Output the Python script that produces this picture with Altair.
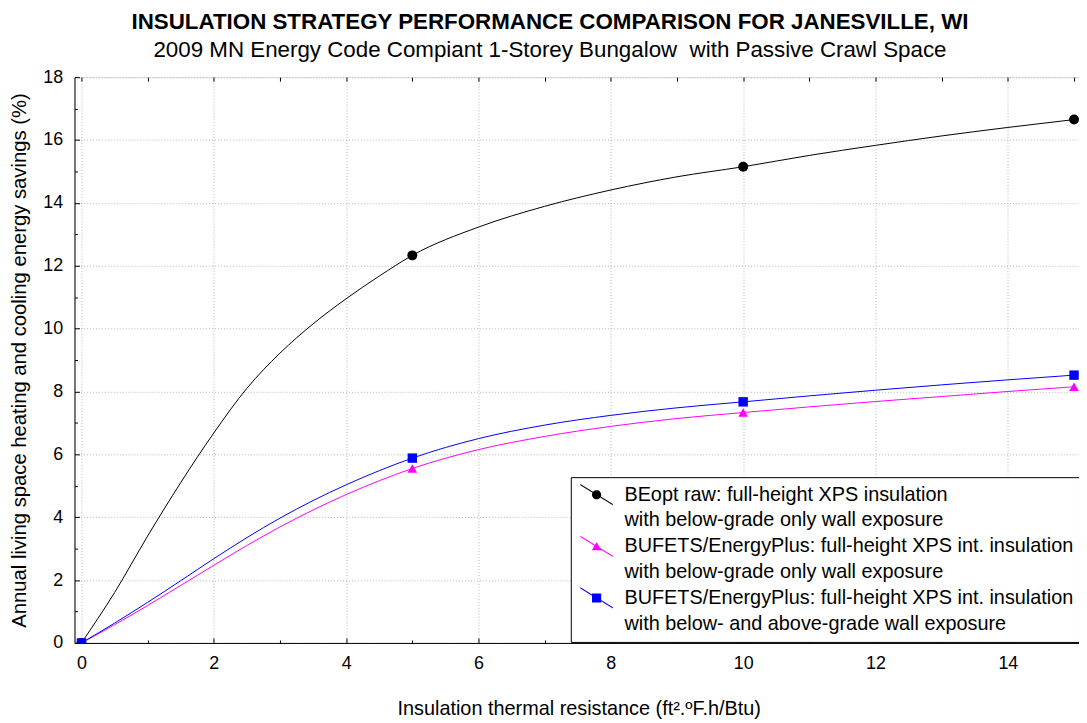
import altair as alt
import pandas as pd

# ---------------- data ----------------
# markers (simulated cases)
x_pts = [0, 5, 10, 15]
beopt_pts = [0, 12.33, 15.15, 16.65]
below_pts = [0, 5.55, 7.33, 8.15]
both_pts = [0, 5.88, 7.67, 8.52]

# smooth fitted curves
x_curve = [0, 0.5, 1, 1.5, 2, 2.5, 3, 3.5, 4, 4.5, 5, 6, 7, 8, 9, 10, 11, 12, 13, 14, 15]
beopt_curve = [0, 1.6, 3.4, 5.1, 6.68, 8.10, 9.22, 10.15, 10.95, 11.67, 12.33,
               13.23, 13.89, 14.41, 14.83, 15.15, 15.51, 15.83, 16.13, 16.4, 16.65]
below_curve = [0, 0.58, 1.19, 1.83, 2.47, 3.10, 3.69, 4.23, 4.72, 5.16, 5.55,
               6.15, 6.57, 6.89, 7.14, 7.33, 7.51, 7.68, 7.84, 8.0, 8.15]
both_curve = [0, 0.63, 1.29, 1.98, 2.68, 3.35, 3.97, 4.53, 5.03, 5.48, 5.88,
              6.50, 6.93, 7.24, 7.48, 7.67, 7.86, 8.04, 8.21, 8.37, 8.52]

series_codes = ["A", "B", "C"]
series_colors = ["#000000", "#FF00FF", "#0000FF"]

legend_keys = ["A", "A2", "B", "B2", "C", "C2"]
legend_text = [
    "BEopt raw: full-height XPS insulation",
    "with below-grade only wall exposure",
    "BUFETS/EnergyPlus: full-height XPS int. insulation",
    "with below-grade only wall exposure",
    "BUFETS/EnergyPlus: full-height XPS int. insulation",
    "with below- and above-grade wall exposure",
]
legend_colors = ["#000000", "#ffffff", "#FF00FF", "#ffffff", "#0000FF", "#ffffff"]

title_text = "INSULATION STRATEGY PERFORMANCE COMPARISON FOR JANESVILLE, WI"
subtitle_text = "2009 MN Energy Code Compiant 1-Storey Bungalow \u00a0with Passive Crawl Space"
x_title = "Insulation thermal resistance (ft\u00b2.\u00baF.h/Btu)"
y_title = "Annual living space heating and cooling energy savings (%)"

FONT = "Liberation Sans"

# ---------------- tables ----------------
rows = []
for code, ys in zip(series_codes, [beopt_curve, below_curve, both_curve]):
    for xv, yv in zip(x_curve, ys):
        rows.append({"x": xv, "y": yv, "s": code})
df_line = pd.DataFrame(rows)

rows = []
for code, ys in zip(series_codes, [beopt_pts, below_pts, both_pts]):
    for xv, yv in zip(x_pts, ys):
        rows.append({"x": xv, "y": yv, "s": code})
df_pts = pd.DataFrame(rows)

# legend symbols: diagonal line segment + marker (unit box scaled by sqrt(size)/2)
seg = "M-0.78,-0.51L0.78,0.45L0.78,0.51L-0.78,-0.45Z"
circ = "M0.22,0A0.22,0.22,0,1,1,-0.22,0A0.22,0.22,0,1,1,0.22,0Z"
tri = "M0,-0.2L0.23,0.19L-0.23,0.19Z"
sq = "M-0.22,-0.22H0.22V0.22H-0.22Z"
legend_paths = [seg + circ, "M0,0", seg + tri, "M0,0", seg + sq, "M0,0"]

label_expr = ""
for k, t in zip(legend_keys, legend_text):
    label_expr += f"datum.value == '{k}' ? '{t}' : "
label_expr += "''"

xscale = alt.Scale(domain=[-0.105, 15.075], nice=False, zero=False)
yscale = alt.Scale(domain=[0, 18], nice=False, zero=False)
cscale = alt.Scale(domain=legend_keys, range=legend_colors)
shscale = alt.Scale(domain=legend_keys, range=legend_paths)

GRID = "#b4b4b4"

main_x = alt.Axis(values=list(range(0, 15, 2)), title=x_title, grid=True, gridColor=GRID,
                  gridDash=[1, 2], ticks=False, domainColor="black", labelFont=FONT,
                  labelFontSize=18, labelColor="black", labelPadding=12, titleFont=FONT,
                  titleFontSize=20, titleFontWeight="normal", titleColor="black",
                  titleX=508, titleY=66, titleAlign="center", titleBaseline="middle")
main_y = alt.Axis(values=list(range(0, 19, 2)), title=y_title, grid=True, gridColor=GRID,
                  gridDash=[1, 2], ticks=False, domainColor="black", labelFont=FONT,
                  labelFontSize=18, labelColor="black", labelPadding=12, titleFont=FONT,
                  titleFontSize=20.4, titleFontWeight="normal", titleColor="black",
                  titleX=-55, titleY=285, titleAngle=270, titleAlign="center",
                  titleBaseline="middle")


def tick_axis(orient, values, size):
    return alt.Axis(orient=orient, values=values, labels=False, domain=False, grid=False,
                    ticks=True, tickSize=size, tickColor="black", offset=-size, title=None)


def line_layer(code, color, xaxis, yaxis):
    return alt.Chart(df_line).transform_filter(alt.datum.s == code).mark_line(
        interpolate="monotone", strokeWidth=1, color=color).encode(
        x=alt.X("x:Q", scale=xscale, axis=xaxis),
        y=alt.Y("y:Q", scale=yscale, axis=yaxis),
    )


line_a = line_layer("A", series_colors[0], main_x, main_y)
line_b = line_layer("B", series_colors[1], None, None)
line_c = line_layer("C", series_colors[2], None, None)

pts_a = alt.Chart(df_pts).transform_filter(alt.datum.s == "A").mark_point(
    shape="circle", filled=True, size=100, color=series_colors[0], opacity=1, clip=True).encode(
    x=alt.X("x:Q", scale=xscale, axis=tick_axis("bottom", list(range(0, 15, 2)), 5)),
    y=alt.Y("y:Q", scale=yscale, axis=tick_axis("left", list(range(0, 19, 2)), 5)),
)
pts_b = alt.Chart(df_pts).transform_filter(alt.datum.s == "B").mark_point(
    shape="triangle-up", filled=True, size=95, color=series_colors[1], opacity=1, clip=True).encode(
    x=alt.X("x:Q", scale=xscale, axis=tick_axis("bottom", list(range(1, 16, 2)), 3)),
    y=alt.Y("y:Q", scale=yscale, axis=tick_axis("left", list(range(1, 18, 2)), 3)),
)
pts_c = alt.Chart(df_pts).transform_filter(alt.datum.s == "C").mark_point(
    shape="square", filled=True, size=90, color=series_colors[2], opacity=1, clip=True).encode(
    x=alt.X("x:Q", scale=xscale, axis=tick_axis("top", list(range(0, 16)), 4)),
    y=alt.Y("y:Q", scale=yscale, axis=None),
)

leg = alt.Legend(title=None, orient="none", legendX=500, legendY=403, fillColor="white",
                 strokeColor="black", padding=5, labelFont=FONT, labelFontSize=20,
                 labelColor="black", labelLimit=1000, labelOffset=7, symbolSize=1764,
                 symbolStrokeWidth=0, symbolOpacity=1, clipHeight=25.4, rowPadding=0,
                 labelExpr=label_expr)

legend_layer = alt.Chart(df_pts).mark_point(filled=True, opacity=0, size=1764).encode(
    x=alt.X("x:Q", scale=xscale, axis=None),
    y=alt.Y("y:Q", scale=yscale, axis=None),
    color=alt.Color("s:N", scale=cscale, legend=leg),
    shape=alt.Shape("s:N", scale=shscale, legend=leg),
)

chart = alt.layer(line_a, line_b, line_c, pts_a, pts_b, pts_c, legend_layer).resolve_axis(
    x="independent", y="independent"
).properties(
    width=1012,
    height=570,
    autosize=alt.AutoSizeParams(type="none"),
    padding={"left": 67, "top": 67, "right": 0, "bottom": 78},
    title=alt.TitleParams(text=title_text, subtitle=subtitle_text, font=FONT, fontSize=22.5,
                          fontWeight="bold", color="black", subtitleFont=FONT,
                          subtitleFontSize=22.5, subtitleColor="black",
                          subtitleFontWeight="normal", anchor="middle", dx=-27, offset=7,
                          subtitlePadding=6),
).configure_view(stroke="black", strokeWidth=1).configure(background="white")

chart.save("out.html", embed_options={"renderer": "svg", "actions": False})
